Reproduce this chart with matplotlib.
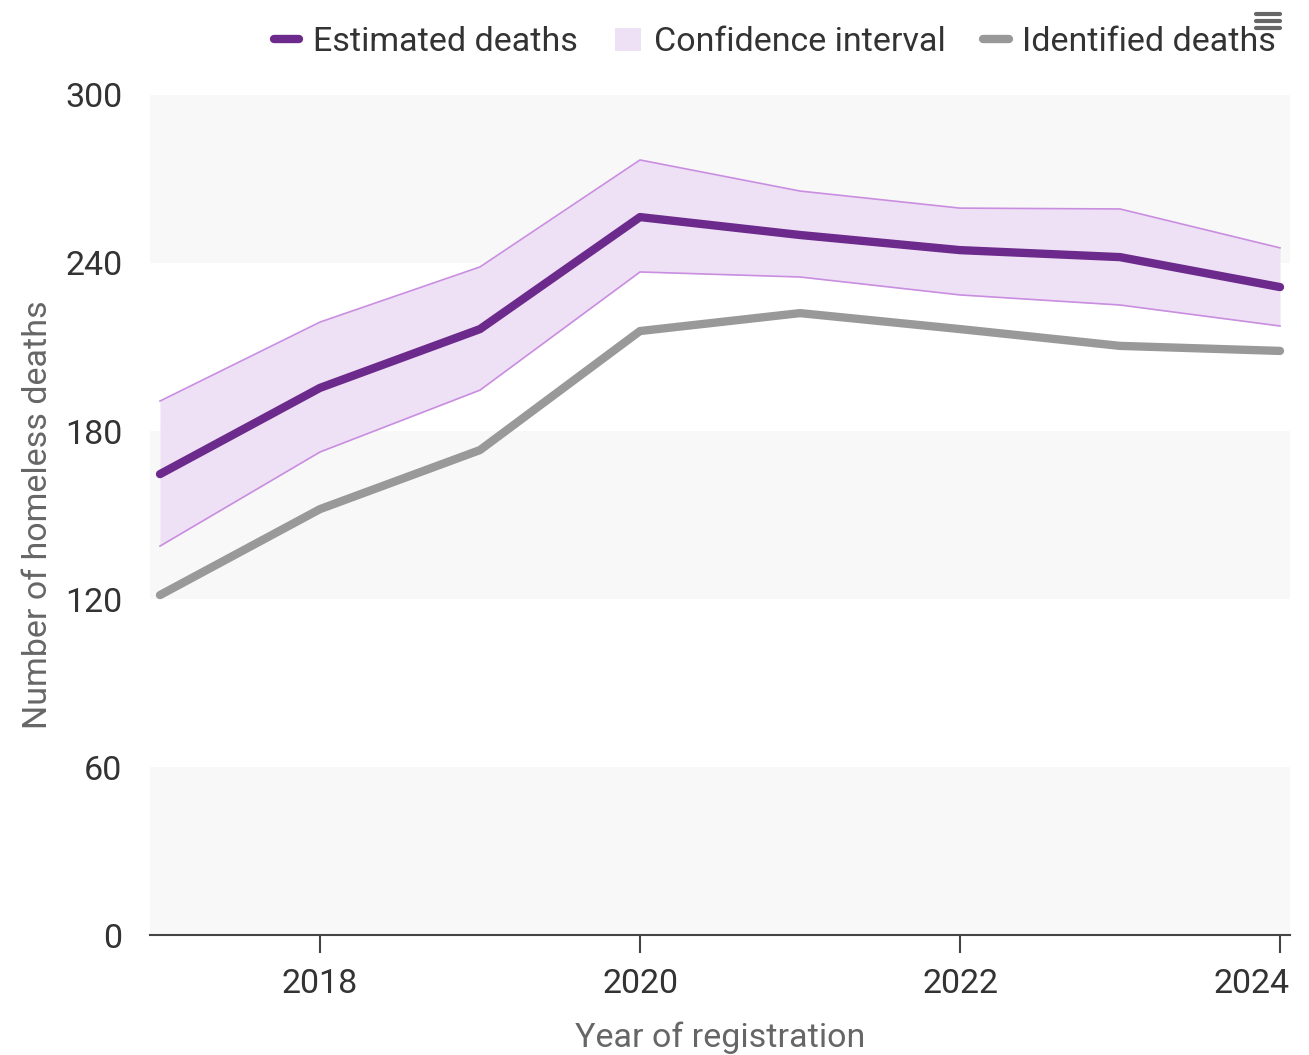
import matplotlib
matplotlib.use("Agg")
import matplotlib.pyplot as plt
import matplotlib.transforms as mtransforms
from matplotlib.lines import Line2D
from matplotlib.patches import Patch

plt.rcParams['font.family'] = ['Roboto', 'DejaVu Sans']

years = [2017, 2018, 2019, 2020, 2021, 2022, 2023, 2024]
estimated = [164.6, 195.4, 216.4, 256.4, 250.0, 244.6, 242.1, 231.4]
ci_upper = [190.7, 218.9, 238.6, 276.8, 265.7, 259.6, 259.3, 245.4]
ci_lower = [138.9, 172.5, 194.6, 236.8, 235.0, 228.6, 225.0, 217.5]
identified = [121.4, 152.1, 173.2, 215.7, 222.1, 216.4, 210.4, 208.6]
y_ticks = [0, 60, 120, 180, 240, 300]
x_ticks = [2018, 2020, 2022, 2024]

purple = "#6c2a8c"
ci_fill = "#efe1f5"
ci_edge = "#c98ee0"
grey = "#999999"

fig = plt.figure(figsize=(13.09, 10.55), dpi=100)
ax = fig.add_axes([150/1309, 120/1055, 1140/1309, 840/1055])

# alternating background bands
for i in range(len(y_ticks) - 1):
    if i % 2 == 0:
        ax.axhspan(y_ticks[i], y_ticks[i+1], color="#f8f8f8", zorder=0, lw=0)

ax.fill_between(years, ci_lower, ci_upper, color=ci_fill, lw=0, zorder=1)
ax.plot(years, ci_upper, color=ci_edge, lw=1.2, zorder=2)
ax.plot(years, ci_lower, color=ci_edge, lw=1.2, zorder=2)
ax.plot(years, identified, color=grey, lw=6, solid_capstyle="round", zorder=3)
ax.plot(years, estimated, color=purple, lw=6, solid_capstyle="round", zorder=4)

ax.set_xlim(2016.9375, 2024.0625)
ax.set_ylim(0, 300)
ax.set_yticks(y_ticks)
ax.set_xticks(x_ticks)
ax.tick_params(axis="y", length=0, pad=20, labelsize=24.5, labelcolor="#333333")
ax.tick_params(axis="x", length=13, width=1.5, color="#444444", pad=11,
               labelsize=24.5, labelcolor="#333333")
for s in ["top", "right", "left"]:
    ax.spines[s].set_visible(False)
ax.spines["bottom"].set_color("#444444")
ax.spines["bottom"].set_linewidth(1.5)

# last x label pulled inside the chart like the original
last = ax.get_xticklabels()[-1]
last.set_transform(last.get_transform() + mtransforms.ScaledTranslation(-0.28, 0, fig.dpi_scale_trans))

ax.set_xlabel("Year of registration", fontsize=24.5, color="#666666", labelpad=15)
ax.set_ylabel("Number of homeless deaths", fontsize=24.5, color="#666666", labelpad=8)

handles = [
    Line2D([0], [0], color=purple, lw=6, solid_capstyle="round"),
    Patch(facecolor=ci_fill, edgecolor="none"),
    Line2D([0], [0], color=grey, lw=6, solid_capstyle="round"),
]
leg = fig.legend(handles, ["Estimated deaths", "Confidence interval", "Identified deaths"],
                 loc="upper right", bbox_to_anchor=(1307/1309, 1.004), ncol=3, frameon=False,
                 fontsize=24.5, handlelength=0.75, handletextpad=0.4, columnspacing=1.1,
                 labelcolor="#333333")

# export menu icon (top right)
for yy in [14, 21, 28]:
    fig.add_artist(Line2D([1256/1309, 1280/1309], [1 - yy/1055, 1 - yy/1055],
                          color="#666666", lw=3, solid_capstyle="round"))

fig.savefig("out.png", dpi=100)
